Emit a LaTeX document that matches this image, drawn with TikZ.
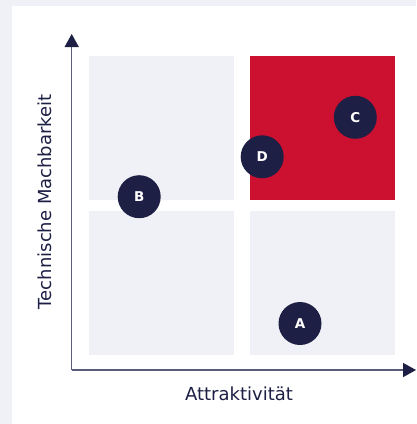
\documentclass[tikz,border=0pt]{standalone}
\usepackage{fontspec}
\setmainfont{DejaVu Sans}
\usetikzlibrary{arrows.meta}
\definecolor{bggray}{HTML}{F0F1F6}
\definecolor{quadgray}{HTML}{F0F1F6}
\definecolor{hired}{HTML}{CC1030}
\definecolor{navy}{HTML}{1E1F45}
\definecolor{axisgray}{HTML}{5B5C7A}
\begin{document}
\begin{tikzpicture}[x=1pt,y=-1pt,
  quad/.style={fill=quadgray,draw=none},
  axisline/.style={draw=axisgray,line width=1.5pt,-{Triangle[length=13pt,width=14pt,color=navy]}},
  dot/.style={circle,fill=navy,draw=none,minimum size=43pt,inner sep=0pt,text=white,font=\fontsize{13.5}{14}\selectfont\bfseries},
  axlabel/.style={text=navy,font=\fontsize{18}{20}\selectfont}]
\useasboundingbox (0,0) rectangle (416,424);
\fill[bggray] (0,0) rectangle (416,424);
\fill[white] (12,6) rectangle (416,424);
% quadrants
\path[quad] (89,56) rectangle (234,200);
\path[fill=hired] (250,56) rectangle (395,200);
\path[quad] (89,210.7) rectangle (234,354.7);
\path[quad] (250,210.7) rectangle (395,354.7);
% axes
\coordinate (origin) at (71.7,370);
\coordinate (ytip) at (71.7,34);
\coordinate (xtip) at (416,370);
\draw[axisline] (origin) -- (ytip);
\draw[axisline] (origin) -- (xtip);
% labels
\node[axlabel,anchor=base] (xlab) at (239,400) {Attraktivität};
\node[axlabel,anchor=base,rotate=90] (ylab) at (52,201.7) {Technische Machbarkeit};
% points
\node[dot] (B) at (139.2,196.7) {B};
\node[dot] (D) at (262.2,156.8) {D};
\node[dot] (C) at (355.3,117.3) {C};
\node[dot] (A) at (300,323.5) {A};
\end{tikzpicture}
\end{document}
